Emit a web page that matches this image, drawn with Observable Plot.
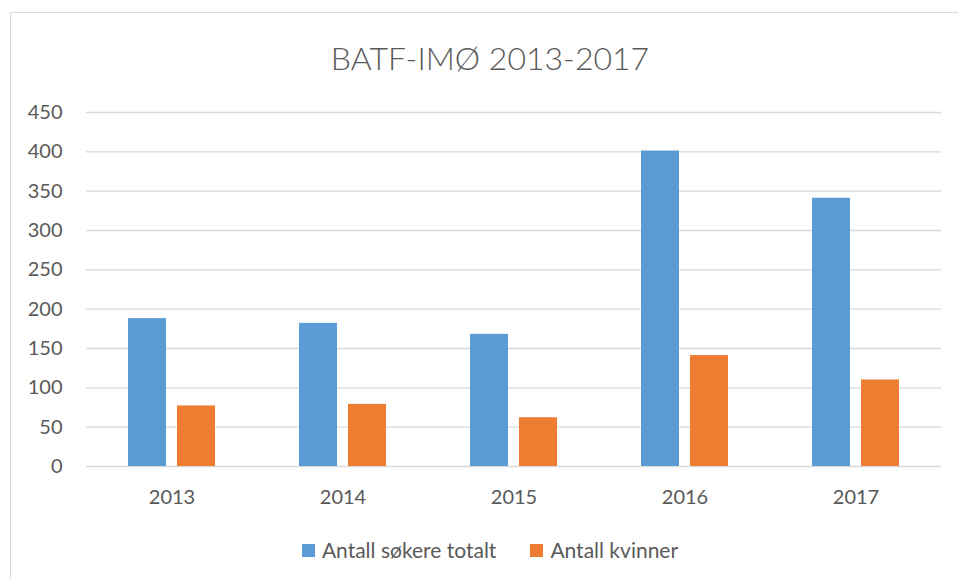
<!DOCTYPE html>
<html>
<head>
<meta charset="utf-8">
<script src="https://cdn.jsdelivr.net/npm/d3@7"></script>
<script src="https://cdn.jsdelivr.net/npm/@observablehq/plot@0.6"></script>
<style>
  html, body { margin: 0; padding: 0; background: #fff; width: 958px; height: 578px; overflow: hidden; font-family: Lato, "Open Sans", sans-serif; }
  #frame { position: absolute; left: 10px; top: 12px; width: 1000px; height: 1000px; border: 1px solid #D9D9D9; box-sizing: border-box; }
  #title { position: absolute; left: 10px; width: 960px; top: 38px; text-align: center; font-size: 32px; font-weight: 300; color: #595959; line-height: 40px; }
  #chart { position: absolute; left: 0; top: 90px; }
  #legend { position: absolute; left: 10px; width: 960px; top: 538px; display: flex; justify-content: center; gap: 34px; font-size: 21px; color: #595959; line-height: 24px; }
  .item { display: flex; align-items: center; gap: 7px; }
  .sw { width: 13px; height: 13px; display: inline-block; }
</style>
</head>
<body>
<div id="frame"></div>
<div id="title">BATF-IMØ 2013-2017</div>
<div id="chart"></div>
<div id="legend"></div>
<script>
const years = ["2013", "2014", "2015", "2016", "2017"];
const seriesNames = ["Antall søkere totalt", "Antall kvinner"];
const totalApplicants = [188, 182, 168, 401, 341];
const women = [77, 79, 62, 141, 110];
const colors = ["#5B9BD5", "#ED7D31"];
const yTicks = [0, 50, 100, 150, 200, 250, 300, 350, 400, 450];

const totals = years.map((year, i) => ({year, series: seriesNames[0], value: totalApplicants[i]}));
const womenData = years.map((year, i) => ({year, series: seriesNames[1], value: women[i]}));

const plot = Plot.plot({
  width: 958,
  height: 430,
  marginLeft: 86,
  marginRight: 17,
  marginTop: 22,
  marginBottom: 54,
  style: { fontFamily: "Lato, 'Open Sans', sans-serif", fontSize: "20px", color: "#595959", background: "transparent" },
  x: { domain: years, paddingInner: 0.491, paddingOuter: 0.2455, label: null },
  y: { domain: [0, 450], label: null },
  marks: [
    Plot.ruleY(yTicks, { stroke: "#D9D9D9", strokeWidth: 1.3 }),
    Plot.barY(totals, { x: "year", y: "value", fill: colors[0], insetRight: 49 }),
    Plot.barY(womenData, { x: "year", y: "value", fill: colors[1], insetLeft: 49 }),
    Plot.axisY({ ticks: yTicks, tickSize: 0, tickPadding: 24, label: null }),
    Plot.axisX({ tickSize: 0, tickPadding: 23, label: null })
  ]
});
document.getElementById("chart").appendChild(plot);

const legend = document.getElementById("legend");
seriesNames.forEach((name, i) => {
  const item = document.createElement("div");
  item.className = "item";
  const sw = document.createElement("span");
  sw.className = "sw";
  sw.style.background = colors[i];
  const label = document.createElement("span");
  label.textContent = name;
  item.appendChild(sw);
  item.appendChild(label);
  legend.appendChild(item);
});
</script>
</body>
</html>
